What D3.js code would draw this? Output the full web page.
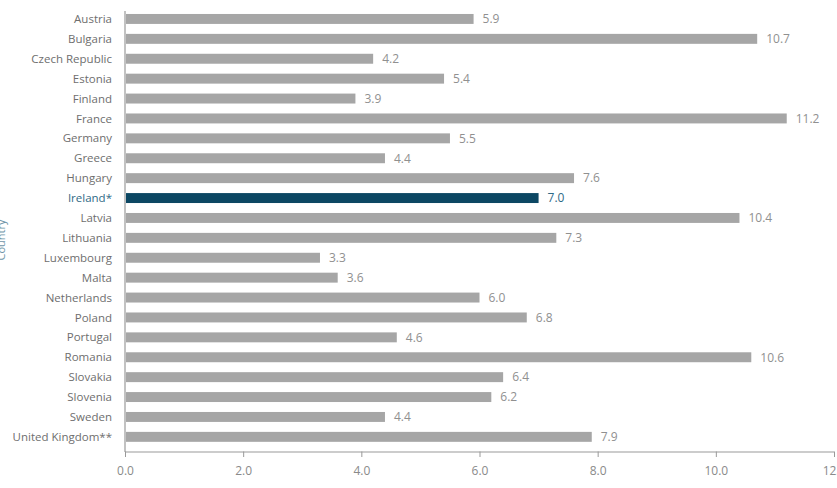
<!DOCTYPE html>
<html><head><meta charset="utf-8">
<script src="https://cdn.jsdelivr.net/npm/d3@7"></script>
<style>body{margin:0;background:#fff;}svg{display:block;font-family:"Open Sans","Lato",sans-serif;}</style>
</head><body><svg id="c" width="837" height="488"></svg>
<script>
const countries = ["Austria","Bulgaria","Czech Republic","Estonia","Finland","France","Germany","Greece","Hungary","Ireland*","Latvia","Lithuania","Luxembourg","Malta","Netherlands","Poland","Portugal","Romania","Slovakia","Slovenia","Sweden","United Kingdom**"];
const values = [5.9,10.7,4.2,5.4,3.9,11.2,5.5,4.4,7.6,7.0,10.4,7.3,3.3,3.6,6.0,6.8,4.6,10.6,6.4,6.2,4.4,7.9];
const xTicks = [0,2,4,6,8,10,12];
const highlight = "Ireland*";

const svg = d3.select("#c");
const x = d3.scaleLinear().domain([0,12]).range([125,834]);
const y = d3.scaleBand().domain(countries).range([9,446.8]).paddingInner(0.5).paddingOuter(0.25);

// bars
svg.selectAll("rect.bar").data(countries).join("rect")
  .attr("x", x(0)+1).attr("y", d=>y(d))
  .attr("width", (d,i)=>x(values[i])-x(0)-1).attr("height", y.bandwidth())
  .attr("fill", d=> d===highlight ? "#0c4763" : "#a6a6a6");

// value labels
svg.selectAll("text.val").data(countries).join("text")
  .attr("x",(d,i)=>x(values[i])+9).attr("y", d=>y(d)+y.bandwidth()/2)
  .attr("dy","0.36em").attr("font-size","12px")
  .attr("fill", d=> d===highlight ? "#2f6a86" : "#909090")
  .text((d,i)=>values[i].toFixed(1));

// category labels
svg.selectAll("text.cat").data(countries).join("text")
  .attr("x",112).attr("y", d=>y(d)+y.bandwidth()/2)
  .attr("dy","0.36em").attr("text-anchor","end").attr("font-size","11.5px")
  .attr("fill", d=> d===highlight ? "#2f6a86" : "#6e6e6e")
  .text(d=>d);

// y axis line
svg.append("line").attr("x1",125).attr("x2",125).attr("y1",11).attr("y2",452)
  .attr("stroke","#999").attr("stroke-width",1.2);

// x axis
const xa = svg.append("g").attr("transform","translate(0,452)")
  .call(d3.axisBottom(x).tickValues(xTicks).tickFormat(d3.format(".1f")).tickSize(5).tickSizeOuter(0));
xa.select(".domain").attr("stroke","#999").attr("stroke-width",1.2).attr("d","M125,0H834");
xa.selectAll(".tick line").attr("stroke","#999").attr("y1",-0.5).attr("y2",5);
xa.selectAll(".tick text").attr("fill","#8a8a8a").attr("font-size","12px").attr("font-family","'Open Sans',Lato,sans-serif").attr("y",14);

// y axis title
svg.append("text").attr("transform","translate(5,240) rotate(-90)")
  .attr("text-anchor","middle").attr("font-size","11px").attr("fill","#6f95a8").text("Country");
</script></body></html>
